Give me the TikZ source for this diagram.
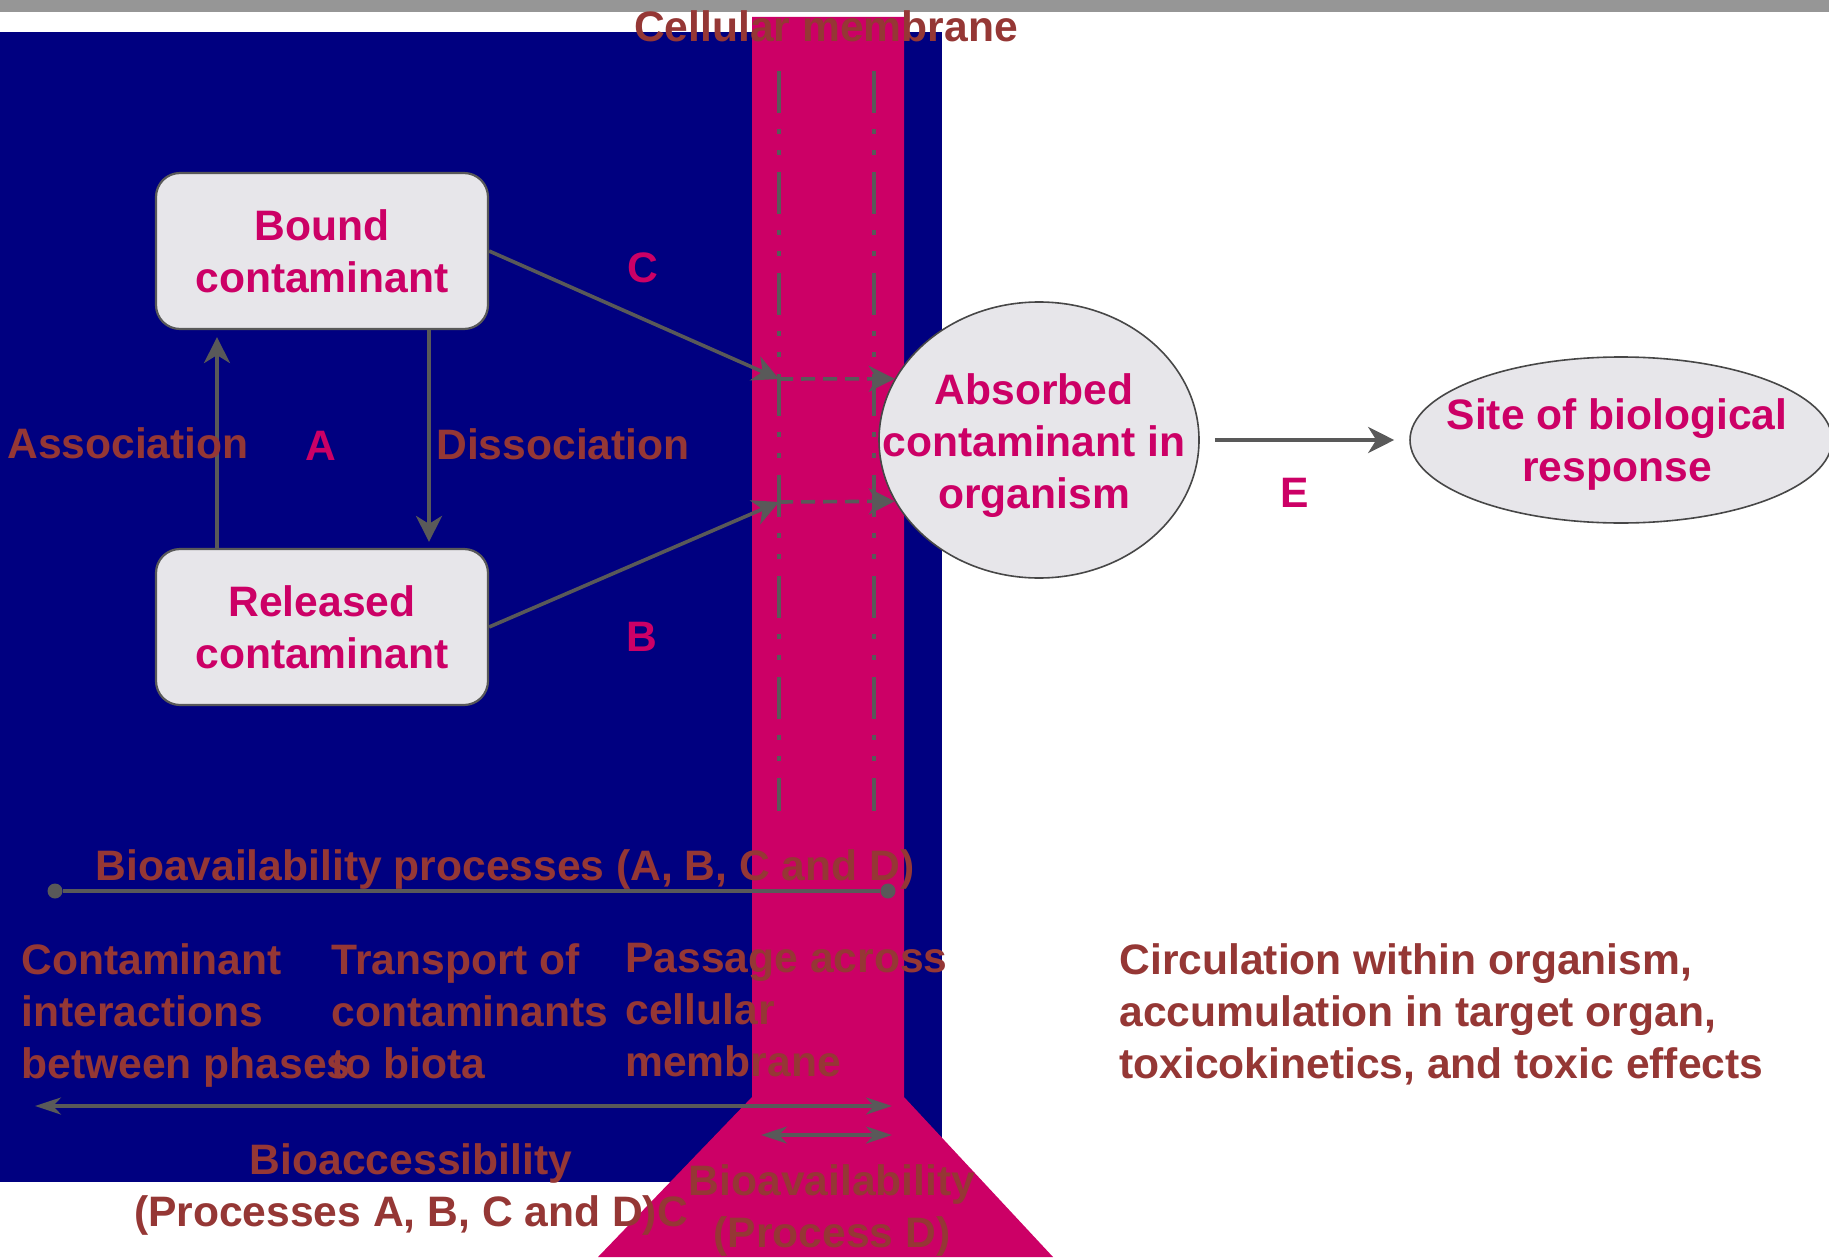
\documentclass[tikz,border=0pt]{standalone}
\usepackage{fontspec}
\setmainfont{Liberation Sans}
\usetikzlibrary{arrows.meta,shapes.geometric}
\definecolor{navyback}{HTML}{000080}
\definecolor{membcol}{HTML}{CC0066}
\definecolor{rust}{HTML}{953735}
\definecolor{linegray}{HTML}{595959}
\definecolor{boxgray}{HTML}{E7E6EA}
\definecolor{bargray}{HTML}{969696}
\tikzset{
    bigfont/.style={font=\fontsize{21.3pt}{26pt}\selectfont\bfseries},
    cbox/.style={bigfont, rectangle, rounded corners=12pt, draw=linegray, line width=1.1pt,
        fill=boxgray, text=membcol, align=center, minimum width=166pt, minimum height=78pt},
    blob/.style={ellipse, draw=linegray!80!black, line width=.8pt, fill=boxgray, inner sep=0pt},
    blobtext/.style={bigfont, text=membcol, align=center, inner sep=0pt},
    rusttext/.style={bigfont, text=rust, inner sep=0pt},
    coltext/.style={bigfont, text=rust, align=left, anchor=north west, inner sep=0pt},
    letter/.style={bigfont, text=membcol, inner sep=0pt},
    flow/.style={draw=linegray, line width=1.8pt},
    memline/.style={draw=linegray, line width=2pt,
        dash pattern=on 21pt off 8pt on 2.5pt off 8pt on 2.5pt off 8.5pt},
    dashflow/.style={draw=linegray, line width=1.8pt, dash pattern=on 7pt off 4pt},
    dot/.style={circle, fill=linegray, inner sep=0pt, minimum size=7.5pt}
}
\begin{document}
\begin{tikzpicture}[x=.5pt, y=-.5pt, >={Stealth[length=13pt,width=13pt,inset=4pt]}]
\useasboundingbox (0,0) rectangle (1829,1257);
\fill[bargray] (0,0) rectangle (1829,12);
\fill[navyback] (0,32) rectangle (942,1182);
\fill[membcol] (752,17) -- (904,17) -- (904,1097) -- (1053,1257) -- (598,1257) -- (752,1097) -- cycle;
\foreach \x in {779,874}
{
    \draw[memline] (\x,71) -- (\x,811);
}
\node[cbox] (bound) at (322,251) {Bound\\contaminant};
\node[cbox] (released) at (322,627) {Released\\contaminant};
\node[blob, minimum width=160pt, minimum height=138pt] (absorbed) at (1039,440) {};
\node[blobtext] (absorbedtxt) at (1034,446) {Absorbed\\contaminant in\\organism};
\node[blob, minimum width=211pt, minimum height=83pt] (site) at (1621,440) {};
\node[blobtext] (sitetxt) at (1617,444) {Site of biological\\response};
\coordinate (cin) at (779,379);
\coordinate (bin) at (779,502);
\draw[flow,->] (bound.east) -- (cin);
\draw[flow,->] (released.east) -- (bin);
\draw[dashflow,->] (cin) -- (absorbed.157);
\draw[dashflow,->] (bin) -- (absorbed.203);
\draw[flow,->, shorten >=3.5pt] ([xshift=-52.5pt]released.north) -- ([xshift=-52.5pt]bound.south);
\draw[flow,->, shorten >=3pt] ([xshift=53.5pt]bound.south) -- ([xshift=53.5pt]released.north);
\draw[flow,->, line width=2.2pt, shorten <=7.5pt, shorten >=7.5pt,
    >={Stealth[length=13pt,width=13pt,inset=4pt]}] (absorbed.east) -- (site.west);
\foreach \nm/\x/\y/\txt in {lblA/321/446/A, lblB/642/637/B, lblC/643/268/C, lblE/1295/493/E}
{
    \node[letter] (\nm) at (\x,\y) {\txt};
}
\foreach \nm/\x/\y/\txt in {assoc/128/443/Association, dissoc/563/444/Dissociation,
    cellmem/826/26/Cellular membrane, bioproc/505/869/{Bioavailability processes (A, B, C and D)},
    bioacc/411/1189/{Bioaccessibility\\(Processes A, B, C and D)C}, bioav/832/1210/{Bioavailability\\(Process D)}}
{
    \node[rusttext, align=center] (\nm) at (\x,\y) {\txt};
}
\foreach \nm/\x/\txt in {interact/21/{Contaminant\\interactions\\between phases},
    transport/331/{Transport of\\contaminants\\to biota}, passage/625/{Passage across\\cellular\\membrane},
    circ/1119/{Circulation within organism,\\accumulation in target organ,\\toxicokinetics, and toxic effects}}
{
    \node[coltext] (\nm) at (\x,943) {\txt};
}
\node[dot] (procl) at (55,891) {};
\node[dot] (procr) at (888,891) {};
\draw[flow] (procl) -- (procr);
\coordinate (accl) at (35,1106);
\coordinate (accr) at (892,1106);
\draw[flow,<->, >={Stealth[length=13pt,width=8.5pt,inset=4pt]}] (accl) -- (accr);
\coordinate (availl) at (761,1135);
\coordinate (availr) at (892,1135);
\draw[flow,<->, >={Stealth[length=13pt,width=8.5pt,inset=4pt]}] (availl) -- (availr);
\end{tikzpicture}
\end{document}
